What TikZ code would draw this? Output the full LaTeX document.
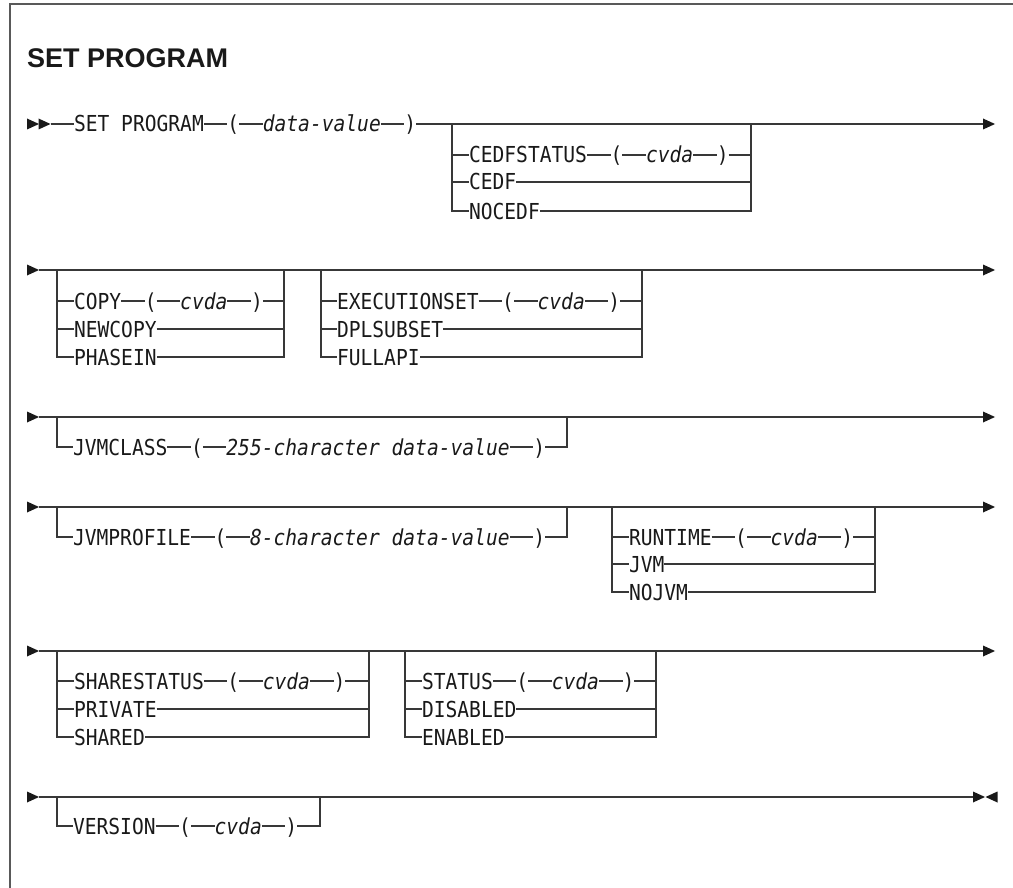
\documentclass[tikz,border=0pt]{standalone}
\usepackage{fontspec}
\newfontfamily\dmono[FakeStretch=0.891]{DejaVu Sans Mono}
\newfontfamily\tfont{Liberation Sans}
\tikzset{
  tok/.style={inner sep=0pt, outer sep=0pt, anchor=west, text height=16pt, text depth=0pt,
    text=black!90, font=\dmono\fontsize{22}{26}\selectfont},
  var/.style={tok, font=\dmono\itshape\fontsize{22}{26}\selectfont},
  ln/.style={line width=1.4pt, draw=black!78},
  tip/.style={fill=black!90},
  frame/.style={line width=2pt, draw=black!65},
}
% next token in a chain, joined to the previous one by a connector
\newcommand\nx[4][tok]{\node[#1] (#2) at ([xshift=23.6pt]#3.east) {#4};
  \draw[ln] (#3.east) -- (#2.west);}
% middle row of a choice block: left rail, right rail, first node, last node
\newcommand\brow[4]{\draw[ln] (#1|-#3.west) -- (#3.west); \draw[ln] (#4.east) -- (#2|-#4.east);}
% last row of a choice block (closes the rails)
\newcommand\bend[4]{\draw[ln] (#1) -- (#1|-#3.west) -- (#3.west); \draw[ln] (#2) -- (#2|-#4.east) -- (#4.east);}
\newcommand\rtri[2]{\fill[tip] (#1,#2) ++(0,-5.5) -- ++(12,5.5) -- ++(-12,5.5) -- cycle;}
\newcommand\ltri[2]{\fill[tip] (#1,#2) ++(12,-5.5) -- ++(-12,5.5) -- ++(12,5.5) -- cycle;}
\begin{document}
\begin{tikzpicture}[x=1pt,y=-1pt]
\useasboundingbox (0,0) rectangle (1013,888);
\draw[frame] (1013,4.5) -- (9.5,4.5) -- (9.5,888);
\node[anchor=base west, inner sep=0pt, text=black!90, font=\tfont\bfseries\fontsize{27}{31}\selectfont] (title) at (27,68) {SET PROGRAM};

% ---------------- row 1
\rtri{27}{124}\rtri{38.5}{124}
\coordinate (s1) at (50.5,124);
\node[tok] (a1) at (74,124) {SET PROGRAM};
\draw[ln] (s1) -- (a1.west);
\nx{a2}{a1}{(}
\nx[var]{a3}{a2}{data-value}
\nx{a4}{a3}{)}
\coordinate (e1) at (983,124);
\draw[ln] (a4.east) -- (e1);
\rtri{983}{124}
\coordinate (L1) at (452,124); \coordinate (R1) at (751,124);
\node[tok] (b1) at (469,155) {CEDFSTATUS}; \nx{b2}{b1}{(} \nx[var]{b3}{b2}{cvda} \nx{b4}{b3}{)}
\brow{L1}{R1}{b1}{b4}
\node[tok] (b5) at (469,182) {CEDF}; \brow{L1}{R1}{b5}{b5}
\node[tok] (b6) at (469,211) {NOCEDF}; \bend{L1}{R1}{b6}{b6}

% ---------------- row 2
\rtri{27}{270}
\coordinate (s2) at (38.5,270); \coordinate (e2) at (983,270);
\draw[ln] (s2) -- (e2); \rtri{983}{270}
\coordinate (L2) at (57,270); \coordinate (R2) at (284,270);
\node[tok] (c1) at (74,301) {COPY}; \nx{c2}{c1}{(} \nx[var]{c3}{c2}{cvda} \nx{c4}{c3}{)}
\brow{L2}{R2}{c1}{c4}
\node[tok] (c5) at (74,329) {NEWCOPY}; \brow{L2}{R2}{c5}{c5}
\node[tok] (c6) at (74,357) {PHASEIN}; \bend{L2}{R2}{c6}{c6}
\coordinate (L3) at (321,270); \coordinate (R3) at (642,270);
\node[tok] (d1) at (337,301) {EXECUTIONSET}; \nx{d2}{d1}{(} \nx[var]{d3}{d2}{cvda} \nx{d4}{d3}{)}
\brow{L3}{R3}{d1}{d4}
\node[tok] (d5) at (337,329) {DPLSUBSET}; \brow{L3}{R3}{d5}{d5}
\node[tok] (d6) at (337,357) {FULLAPI}; \bend{L3}{R3}{d6}{d6}

% ---------------- row 3
\rtri{27}{417}
\coordinate (s3) at (38.5,417); \coordinate (e3) at (983,417);
\draw[ln] (s3) -- (e3); \rtri{983}{417}
\coordinate (L4) at (57,417); \coordinate (R4) at (567,417);
\node[tok] (f1) at (73,447) {JVMCLASS}; \nx{f2}{f1}{(} \nx[var]{f3}{f2}{255-character data-value} \nx{f4}{f3}{)}
\bend{L4}{R4}{f1}{f4}

% ---------------- row 4
\rtri{27}{507}
\coordinate (s4) at (38.5,507); \coordinate (e4) at (983,507);
\draw[ln] (s4) -- (e4); \rtri{983}{507}
\coordinate (L5) at (57,507); \coordinate (R5) at (567,507);
\node[tok] (g1) at (73,537) {JVMPROFILE}; \nx{g2}{g1}{(} \nx[var]{g3}{g2}{8-character data-value} \nx{g4}{g3}{)}
\bend{L5}{R5}{g1}{g4}
\coordinate (L6) at (612,507); \coordinate (R6) at (875,507);
\node[tok] (h1) at (629,537) {RUNTIME}; \nx{h2}{h1}{(} \nx[var]{h3}{h2}{cvda} \nx{h4}{h3}{)}
\brow{L6}{R6}{h1}{h4}
\node[tok] (h5) at (629,564) {JVM}; \brow{L6}{R6}{h5}{h5}
\node[tok] (h6) at (629,592) {NOJVM}; \bend{L6}{R6}{h6}{h6}

% ---------------- row 5
\rtri{27}{651}
\coordinate (s5) at (38.5,651); \coordinate (e5) at (983,651);
\draw[ln] (s5) -- (e5); \rtri{983}{651}
\coordinate (L7) at (57,651); \coordinate (R7) at (369,651);
\node[tok] (k1) at (74,681) {SHARESTATUS}; \nx{k2}{k1}{(} \nx[var]{k3}{k2}{cvda} \nx{k4}{k3}{)}
\brow{L7}{R7}{k1}{k4}
\node[tok] (k5) at (74,709) {PRIVATE}; \brow{L7}{R7}{k5}{k5}
\node[tok] (k6) at (74,737) {SHARED}; \bend{L7}{R7}{k6}{k6}
\coordinate (L8) at (405,651); \coordinate (R8) at (656,651);
\node[tok] (m1) at (422,681) {STATUS}; \nx{m2}{m1}{(} \nx[var]{m3}{m2}{cvda} \nx{m4}{m3}{)}
\brow{L8}{R8}{m1}{m4}
\node[tok] (m5) at (422,709) {DISABLED}; \brow{L8}{R8}{m5}{m5}
\node[tok] (m6) at (422,737) {ENABLED}; \bend{L8}{R8}{m6}{m6}

% ---------------- row 6
\rtri{27}{797}
\coordinate (s6) at (38.5,797); \coordinate (e6) at (973,797);
\draw[ln] (s6) -- (e6); \rtri{973}{797}\ltri{985.5}{797}
\coordinate (L9) at (57,797); \coordinate (R9) at (320,797);
\node[tok] (n1) at (73,826) {VERSION}; \nx{n2}{n1}{(} \nx[var]{n3}{n2}{cvda} \nx{n4}{n3}{)}
\bend{L9}{R9}{n1}{n4}
\end{tikzpicture}
\end{document}
